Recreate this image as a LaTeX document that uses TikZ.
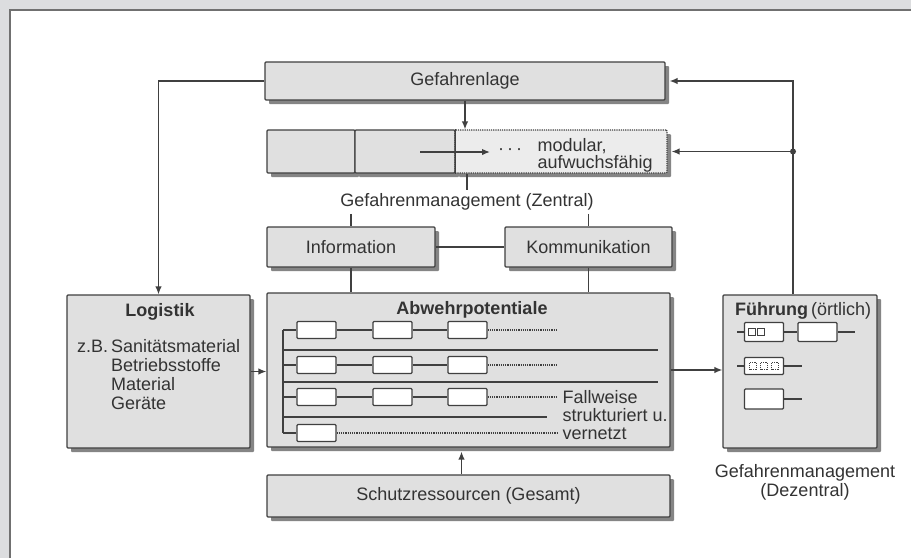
\documentclass[tikz,border=0pt]{standalone}
\usepackage{fontspec}
\setmainfont{Liberation Sans}
\usetikzlibrary{shadows,arrows.meta,positioning}
\definecolor{bggray}{HTML}{DCDDDF}
\definecolor{framegray}{HTML}{707070}
\definecolor{boxfill}{HTML}{E0E0E0}
\definecolor{boxedge}{HTML}{404040}
\definecolor{shadowgray}{HTML}{858585}
\definecolor{inkgray}{HTML}{333333}
\begin{document}
\begin{tikzpicture}[x=1pt,y=-1pt,>={Latex[length=8pt,width=6.5pt]},
    font=\fontsize{18}{21}\selectfont,text=inkgray,
    box/.style={draw=boxedge,fill=boxfill,line width=1.2pt,inner sep=0pt,rounded corners=1pt,
      drop shadow={shadow xshift=4pt,shadow yshift=-4pt,fill=shadowgray,opacity=1}},
    slot/.style={draw=boxedge,fill=white,line width=1.2pt,minimum width=39pt,minimum height=17pt,
      inner sep=0pt,rounded corners=1pt},
    cell/.style={draw=boxedge,line width=.8pt,minimum size=7pt,inner sep=0pt},
    wire/.style={draw=boxedge,line width=1.2pt},
    dotwire/.style={wire,densely dotted},
    conn/.style={draw=boxedge,line width=1.4pt}]
      \def\spine{283}
      \def\dotend{557}
      \useasboundingbox (0,0) rectangle (911,558);
      \fill[bggray] (0,0) rectangle (911,558);
      \fill[white] (9.5,9.5) rectangle (911,558);
      \draw[framegray,line width=2pt] (9.5,558) -- (9.5,9.5) -- (911,9.5);

      \node[box,minimum width=400pt,minimum height=38pt] (gef) at (465,81) {Gefahrenlage};
      \node[box,minimum width=88pt,minimum height=43pt] (modA) at (311,151.5) {};
      \node[box,minimum width=100pt,minimum height=43pt] (modB) at (405,151.5) {};
      \node[box,densely dotted,fill=boxfill!60!white,minimum width=212pt,minimum height=43pt] (modC) at (561,151.5) {};
      \draw[wire] (modB.north east) -- (modB.south east);
      \coordinate (m0) at (420,152);
      \coordinate (m1) at (490,152);
      \draw[conn,->] (m0) -- (m1);
      \node[right=8pt of m1,inner sep=0pt] (dots) {·\,·\,·};
      \node[anchor=west,align=left,font=\fontsize{18}{15}\selectfont] (modT) at (534,155.5) {modular,\\aufwuchsfähig};
      \node (zentral) at (467,202) {Gefahrenmanagement (Zentral)};

      \node[box,minimum width=168pt,minimum height=40pt] (info) at (351,247) {Information};
      \node[box,minimum width=167pt,minimum height=40pt] (komm) at (588.5,247) {Kommunikation};
      \node[box,minimum width=183pt,minimum height=153pt] (log) at (158.5,371.5) {};
      \node[box,minimum width=403pt,minimum height=154pt] (abw) at (468.5,370) {};
      \node[box,minimum width=154pt,minimum height=153pt] (fuehr) at (800,371.5) {};
      \node[box,minimum width=403pt,minimum height=42pt] (schutz) at (468.5,496) {Schutzressourcen (Gesamt)};

      \node (logT) at (160,312) {\bfseries Logistik};
      \node[anchor=base west,inner sep=0pt,font=\fontsize{18}{19.3}\selectfont] (logL) at (77,352)
        {\begin{tabular}[t]{@{}l@{\hspace{3pt}}l@{}}z.B. & Sanitätsmaterial\\ & Betriebsstoffe\\ & Material\\ & Geräte\end{tabular}};

      \node (abwT) at (472,310) {\bfseries Abwehrpotentiale};
      \foreach \r/\y in {1/330,2/365,3/397}{
        \foreach \c/\x in {1/316.5,2/392.5,3/467.5}
          \node[slot] (s\r\c) at (\x,\y) {};
        \draw[wire] (\spine,\y) -- (s\r1.west) (s\r1.east) -- (s\r2.west) (s\r2.east) -- (s\r3.west);
        \draw[dotwire] (s\r3.east) -- (\dotend,\y);
      }
      \node[slot] (s41) at (316.5,433) {};
      \draw[wire] (\spine,433) -- (s41.west);
      \draw[dotwire] (s41.east) -- (\dotend,433);
      \draw[wire] (\spine,330) -- (\spine,433);
      \foreach \y/\e in {350/658,382/658,417/547}
        \draw[wire] (\spine,\y) -- (\e,\y);
      \node[anchor=west,align=left,font=\fontsize{18}{18}\selectfont] (fallT) at (559,415) {Fallweise\\strukturiert u.\\vernetzt};

      \node[anchor=base west,inner sep=0pt] (fuehrT) at (735,315) {\textbf{Führung}\,(örtlich)};
      \node[slot,minimum height=19pt] (fa) at (764,332) {};
      \node[slot,minimum height=19pt] (fb) at (817.5,332) {};
      \foreach \x in {752,761} \node[cell] at (\x,332) {};
      \draw[wire] (737,332) -- (fa.west) (fa.east) -- (fb.west) (fb.east) -- (855,332);
      \node[slot] (fc) at (764,366) {};
      \foreach \x in {753,764,775} \node[cell,densely dotted] at (\x,366) {};
      \draw[wire] (737,366) -- (fc.west) (fc.east) -- (802,366);
      \node[slot,minimum height=20pt] (fd) at (764,399) {};
      \draw[wire] (fd.east) -- (802,399);
      \node[align=center,font=\fontsize{18}{19}\selectfont] (dezT) at (805,482) {Gefahrenmanagement\\(Dezentral)};

      \draw[conn,->] (gef.west) -| (log.north);
      \draw[conn,->] (gef.south) -- (gef.south |- modC.north);
      \draw[conn] (modC.south -| zentral.north) -- (zentral.north);
      \draw[conn] (zentral.south -| info.north) -- (info.north);
      \draw[conn] (zentral.south -| komm.north) -- (komm.north);
      \draw[conn] (info.east) -- (komm.west);
      \draw[conn] (info.south) -- (info.south |- abw.north);
      \draw[conn] (komm.south) -- (komm.south |- abw.north);
      \draw[conn,->] (log.east) -- (log.east -| abw.west);
      \draw[conn,->] (abw.east) -- (abw.east -| fuehr.west);
      \coordinate (s0) at ([xshift=-7pt]schutz.north);
      \draw[conn,->] (s0) -- ([yshift=-4pt]s0 |- abw.south);
      \coordinate (f0) at ([xshift=-7pt]fuehr.north);
      \draw[conn,->] (f0) |- ([xshift=4pt]gef.east);
      \coordinate (j) at (f0 |- modC.east);
      \draw[conn,->] (j) -- ([xshift=4pt]modC.east);
      \fill[boxedge] (j) circle (3pt);
    \end{tikzpicture}
\end{document}
